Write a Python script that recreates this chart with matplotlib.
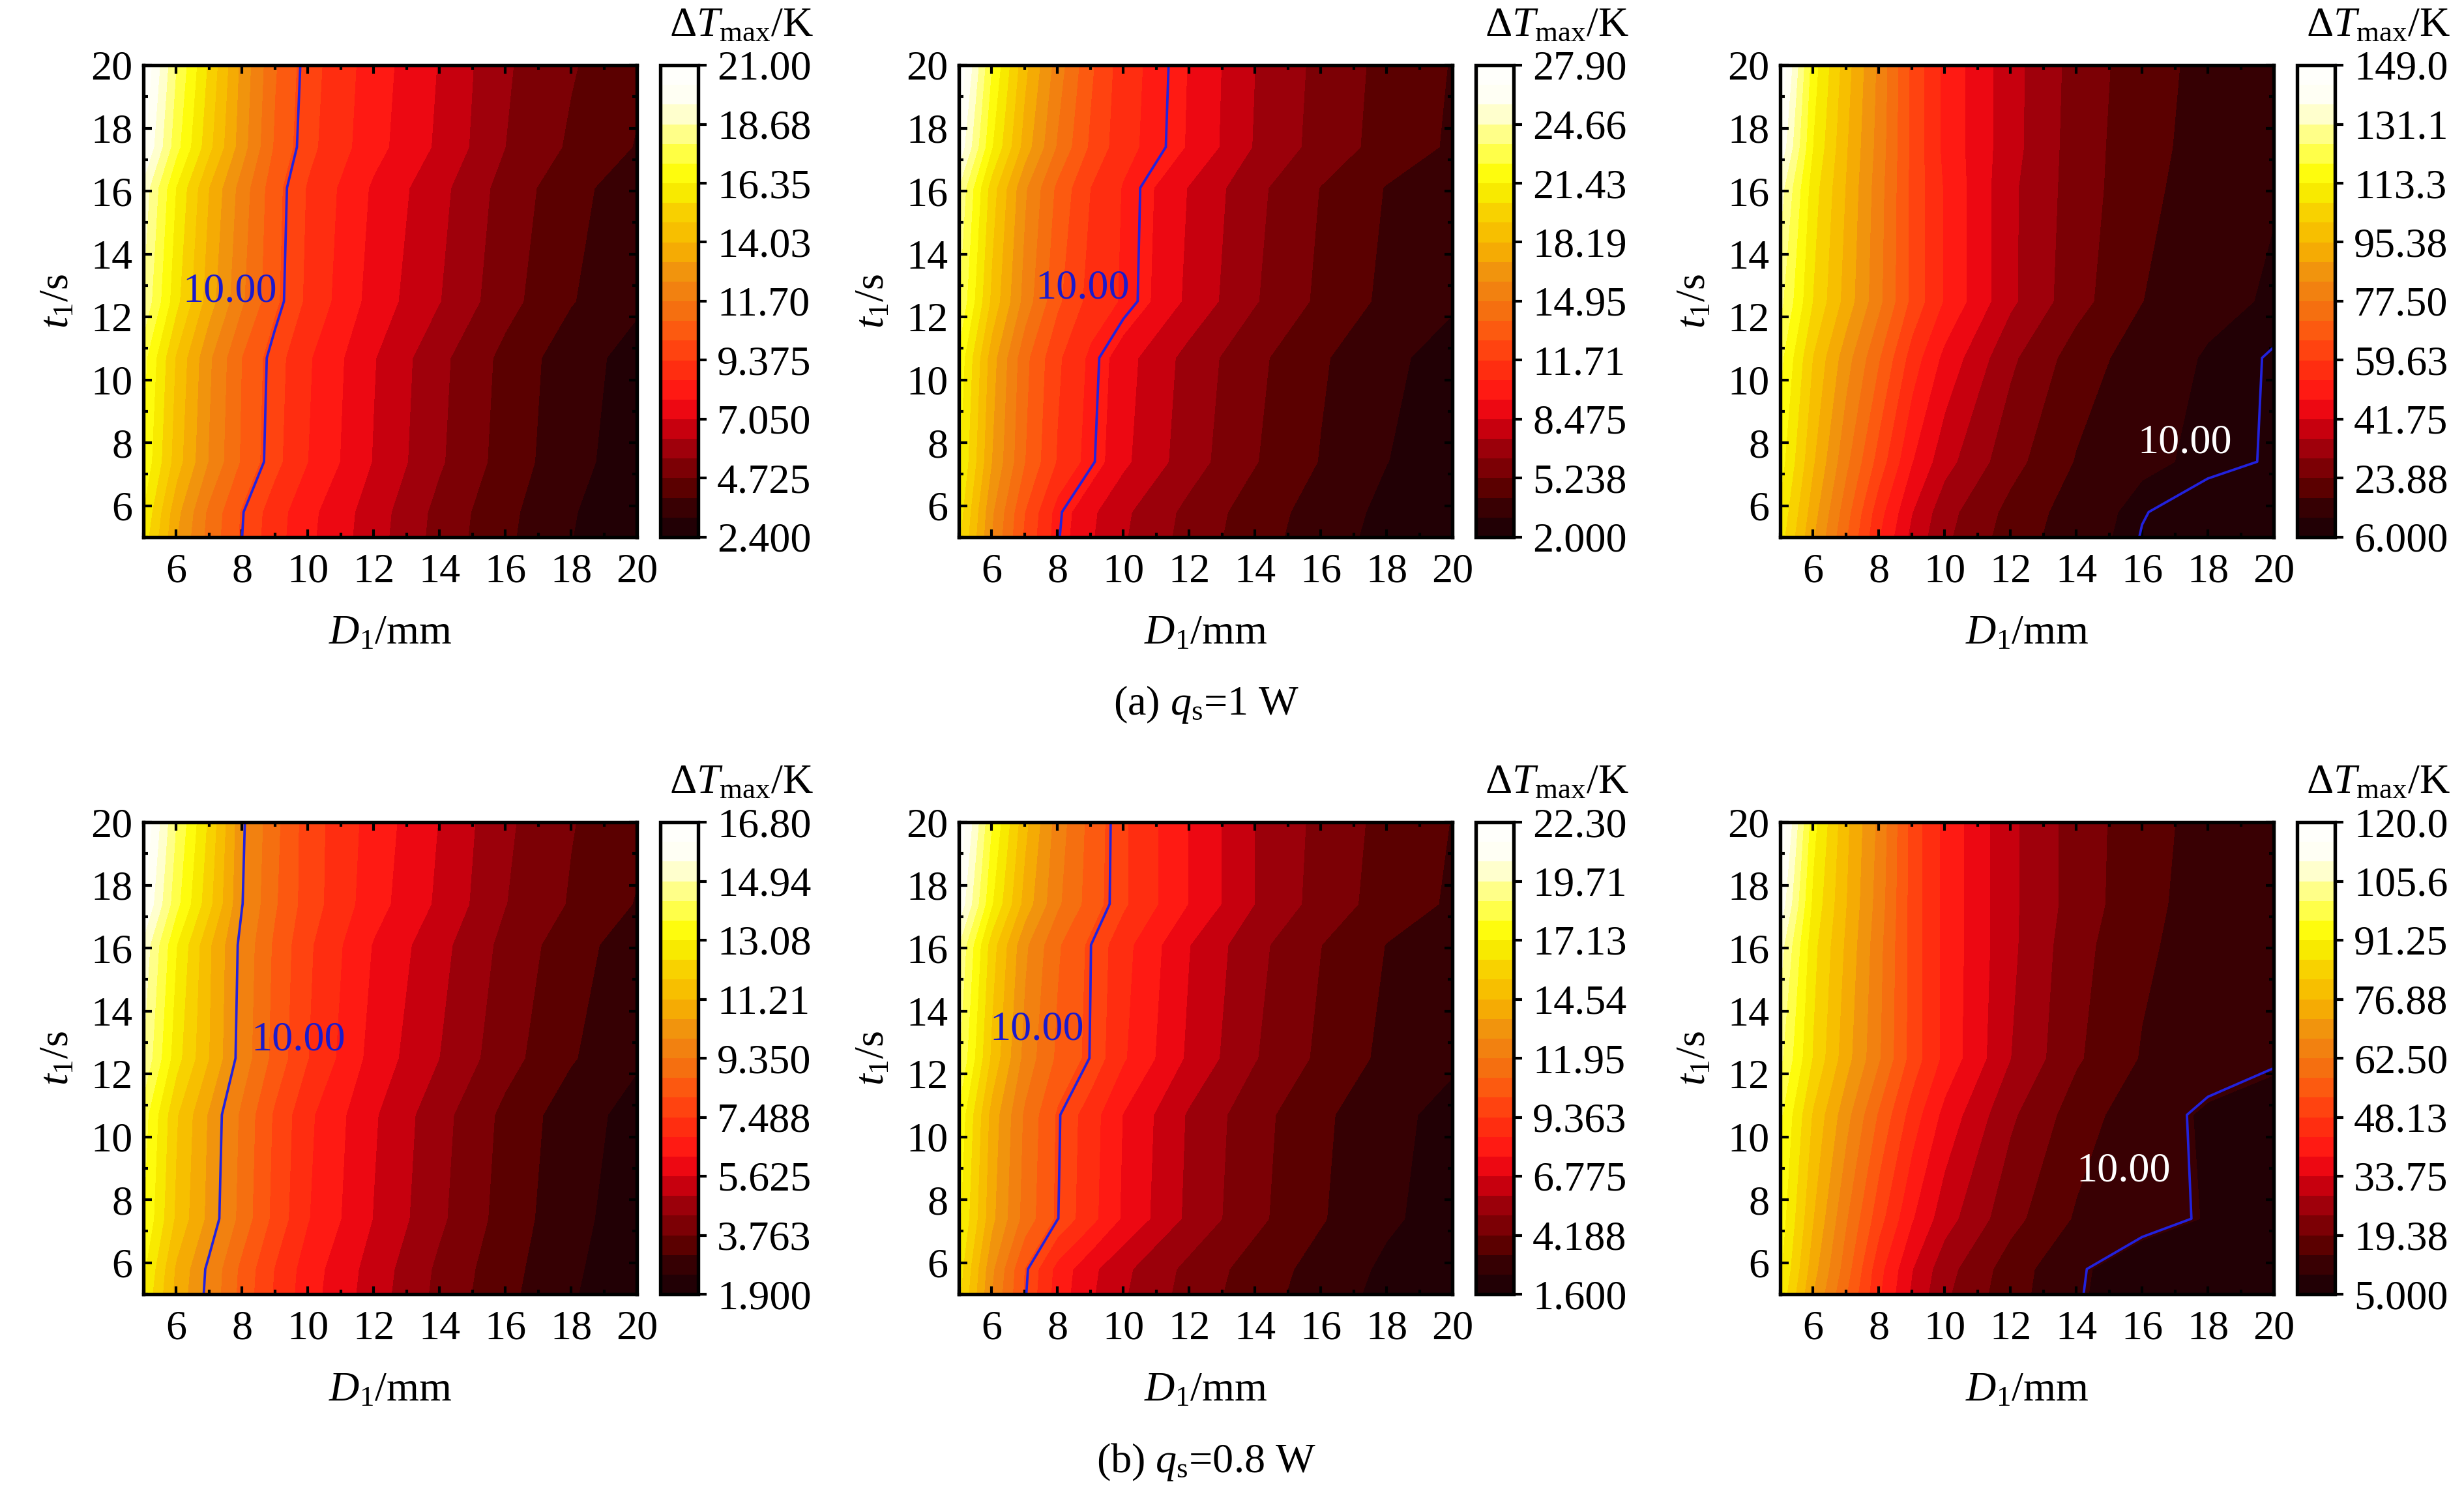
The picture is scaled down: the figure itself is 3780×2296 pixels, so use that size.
import numpy as np
import matplotlib
matplotlib.use('Agg')
import matplotlib.pyplot as plt
from matplotlib.colors import LinearSegmentedColormap
from matplotlib.ticker import MultipleLocator
from decimal import Decimal, ROUND_HALF_UP

plt.rcParams['font.family'] = ['Liberation Serif', 'DejaVu Serif']
plt.rcParams['mathtext.fontset'] = 'custom'
plt.rcParams['mathtext.rm'] = 'Liberation Serif'
plt.rcParams['mathtext.it'] = 'Liberation Serif:italic'
plt.rcParams['mathtext.bf'] = 'Liberation Serif:bold'

# ---------------- data ----------------
D1 = [5, 6, 7, 8, 9, 10, 12, 14, 16, 18, 20]          # D1 / mm
t1 = [5, 5.8, 7.4, 10.7, 12.5, 16.1, 17.4, 20]        # t1 / s

# (a) q_s = 1 W
dT_a1 = [
    [16.0, 13.3, 11.4, 10.0, 8.9, 8.0, 6.6, 5.2, 4.1, 3.2, 2.4],
    [16.3, 13.5, 11.5, 10.05, 8.95, 8.05, 6.65, 5.25, 4.15, 3.25, 2.5],
    [17.0, 14.4, 12.4, 10.8, 9.6, 8.6, 7.0, 5.6, 4.4, 3.4, 2.8],
    [17.4, 14.7, 12.6, 10.9, 9.7, 8.7, 7.1, 5.7, 4.5, 3.5, 2.9],
    [18.6, 15.8, 13.6, 11.8, 10.3, 9.2, 7.5, 6.3, 5.0, 4.0, 3.3],
    [19.2, 16.3, 14.0, 12.1, 10.4, 9.3, 7.7, 6.5, 5.2, 4.2, 3.5],
    [20.4, 17.4, 15.0, 12.8, 10.8, 9.6, 8.1, 6.9, 5.5, 4.6, 3.9],
    [21.0, 17.9, 15.4, 13.0, 11.0, 9.7, 8.2, 7.0, 5.6, 4.8, 4.1],
]
dT_a2 = [
    [20.6, 16.0, 12.6, 10.1, 8.6, 7.5, 5.9, 4.6, 3.6, 2.7, 2.0],
    [20.9, 16.2, 12.8, 10.2, 8.7, 7.6, 6.0, 4.7, 3.7, 2.8, 2.2],
    [21.6, 17.1, 13.9, 11.6, 10.2, 8.7, 6.8, 5.3, 4.1, 3.1, 2.5],
    [22.2, 17.6, 14.2, 11.9, 10.4, 8.9, 7.0, 5.5, 4.3, 3.3, 2.7],
    [23.6, 19.0, 15.6, 13.0, 11.3, 10.5, 8.2, 6.4, 5.0, 3.9, 3.2],
    [24.6, 19.8, 16.2, 13.6, 11.7, 10.55, 8.4, 6.6, 5.2, 4.1, 3.4],
    [26.6, 21.5, 17.7, 14.8, 12.6, 11.0, 9.45, 7.3, 5.9, 4.8, 4.0],
    [27.9, 22.5, 18.5, 15.5, 13.0, 11.1, 9.5, 7.4, 6.0, 4.9, 4.1],
]
dT_a3 = [
    [110, 90, 72, 54, 40, 31, 21, 14.5, 9.8, 7.5, 6.0],
    [112, 92, 74, 56, 42, 32, 22, 15.0, 10.2, 8.2, 7.0],
    [116, 96, 79, 63, 48, 38, 26, 17.5, 13.0, 10.9, 9.7],
    [121, 101, 86, 72, 57, 46, 31, 21.0, 15.0, 11.4, 9.7],
    [127, 107, 93, 79, 64, 53, 37, 26.0, 18.0, 13.5, 11.3],
    [134, 110, 95, 80, 64, 53, 37, 27.0, 19.5, 15.0, 12.3],
    [142, 113, 96, 81, 64, 52, 38, 27.0, 20.0, 15.5, 12.8],
    [149, 116, 98, 82, 64, 52, 38, 27.5, 20.5, 16.0, 13.0],
]
# (b) q_s = 0.8 W
dT_b1 = [
    [13.0, 11.0, 9.8, 8.5, 7.4, 6.5, 5.3, 4.2, 3.3, 2.6, 1.9],
    [13.2, 11.1, 9.85, 8.55, 7.45, 6.55, 5.35, 4.25, 3.35, 2.65, 2.0],
    [13.7, 11.7, 10.4, 9.1, 7.9, 6.9, 5.6, 4.5, 3.5, 2.7, 2.2],
    [14.0, 11.9, 10.5, 9.2, 8.0, 7.0, 5.7, 4.6, 3.6, 2.8, 2.3],
    [14.9, 12.7, 11.2, 9.7, 8.5, 7.5, 6.0, 5.0, 4.0, 3.2, 2.6],
    [15.4, 13.1, 11.3, 9.8, 8.6, 7.6, 6.2, 5.2, 4.2, 3.4, 2.8],
    [16.3, 13.9, 12.0, 10.02, 8.8, 7.8, 6.5, 5.5, 4.4, 3.7, 3.1],
    [16.8, 14.3, 12.3, 10.1, 8.9, 7.8, 6.6, 5.6, 4.5, 3.8, 3.3],
]
dT_b2 = [
    [16.5, 12.8, 10.1, 8.1, 6.9, 6.0, 4.7, 3.7, 2.9, 2.2, 1.6],
    [16.7, 13.0, 10.2, 8.2, 7.0, 6.1, 4.8, 3.8, 3.0, 2.3, 1.8],
    [17.3, 13.9, 11.6, 10.03, 8.8, 7.5, 5.7, 4.4, 3.4, 2.6, 2.1],
    [17.8, 14.2, 11.8, 10.1, 8.9, 7.6, 5.8, 4.5, 3.5, 2.7, 2.2],
    [18.9, 15.2, 12.5, 10.9, 9.97, 8.6, 6.6, 5.1, 4.0, 3.1, 2.6],
    [19.7, 15.8, 13.0, 11.2, 10.02, 8.8, 6.8, 5.3, 4.2, 3.3, 2.7],
    [21.3, 17.2, 14.2, 12.1, 10.7, 9.5, 7.6, 5.9, 4.7, 3.8, 3.2],
    [22.3, 18.0, 14.8, 12.4, 10.8, 9.5, 7.6, 5.9, 4.8, 3.9, 3.3],
]
dT_b3 = [
    [90, 72, 58, 44, 33, 25, 16.5, 10.3, 7.6, 6.0, 5.0],
    [92, 74, 60, 45, 34, 26, 17.0, 10.4, 7.9, 6.4, 5.5],
    [94, 77, 63, 50, 39, 31, 21.0, 14.0, 11.2, 9.6, 8.6],
    [97, 81, 69, 57, 46, 37, 25.0, 17.0, 11.5, 9.3, 8.6],
    [102, 86, 74, 63, 51, 42, 29.0, 20.0, 14.2, 11.5, 10.3],
    [108, 88, 76, 64, 51, 42, 30.0, 21.0, 15.5, 12.1, 10.8],
    [114, 90, 77, 65, 51, 42, 30.0, 22.0, 16.0, 12.4, 11.0],
    [120, 93, 78, 66, 51, 42, 30.0, 22.0, 16.4, 12.8, 11.2],
]

panels = [dT_a1, dT_a2, dT_a3, dT_b1, dT_b2, dT_b3]
cbar_min = [2.4, 2.0, 6.0, 1.9, 1.6, 5.0]
cbar_max = [21.0, 27.9, 149.0, 16.8, 22.3, 120.0]
contour_value = 10.0
label_pos = [(6.2, 12.8), (7.33, 12.9), (15.86, 8.0),
             (8.27, 13.06), (5.93, 13.4), (14.0, 8.9)]
label_colors = ['#1a1acc', '#1a1acc', 'white', '#1a1acc', '#1a1acc', 'white']
captions = [r'(a) $q_{\mathrm{s}}$=1 W', r'(b) $q_{\mathrm{s}}$=0.8 W']

# ---------------- style ----------------
nodes = [
    (0.00, '#1a0006'), (0.05, '#2e0004'), (0.10, '#5a0000'), (0.15, '#800006'),
    (0.20, '#a8000c'), (0.25, '#e00010'), (0.30, '#ff1414'), (0.36, '#ff3010'),
    (0.42, '#ff5010'), (0.48, '#f57010'), (0.55, '#f08c10'), (0.62, '#f6b400'),
    (0.68, '#f8cc00'), (0.74, '#f8f000'), (0.78, '#ffff10'), (0.86, '#ffff90'),
    (0.92, '#fffff0'), (1.00, '#ffffff'),
]
cmap = LinearSegmentedColormap.from_list('fire', nodes)

W, H = 3780, 2296
fig = plt.figure(figsize=(W / 300, H / 300), dpi=300)

col_left = [220, 1471, 2731]
ax_w = 757
cb_off = 793
cb_w = 58
row_top = [100, 1261]
ax_h = 724
FS = 15.4


def fmt4(v):
    d = Decimal(str(round(v, 9)))
    q = Decimal(1).scaleb(d.adjusted() - 3)
    return f"{d.quantize(q, rounding=ROUND_HALF_UP):f}"


def frac_box(x0, y0, w, h):
    return [x0 / W, 1 - (y0 + h) / H, w / W, h / H]


for i, Z in enumerate(panels):
    r, c = divmod(i, 3)
    ax = fig.add_axes(frac_box(col_left[c], row_top[r], ax_w, ax_h))
    cax = fig.add_axes(frac_box(col_left[c] + cb_off, row_top[r], cb_w, ax_h))
    Z = np.array(Z, dtype=float)
    levels = np.linspace(cbar_min[i], cbar_max[i], 25)
    cs = ax.contourf(D1, t1, Z, levels=levels, cmap=cmap)
    ax.contour(D1, t1, Z, levels=[contour_value], colors='#2222dd', linewidths=0.9)
    lx, ly = label_pos[i]
    ax.text(lx, ly, f'{contour_value:.2f}', color=label_colors[i], fontsize=FS,
            ha='left', va='center')
    ax.set_xlim(5, 20)
    ax.set_ylim(5, 20)
    ax.xaxis.set_major_locator(MultipleLocator(2))
    ax.yaxis.set_major_locator(MultipleLocator(2))
    ax.xaxis.set_minor_locator(MultipleLocator(1))
    ax.yaxis.set_minor_locator(MultipleLocator(1))
    ax.tick_params(which='both', direction='in', top=True, right=True,
                   labelsize=FS, width=1.0)
    ax.tick_params(which='major', length=3.0)
    ax.tick_params(which='minor', length=1.6)
    ax.tick_params(axis='x', pad=6)
    ax.tick_params(axis='y', pad=4)
    for sp in ax.spines.values():
        sp.set_linewidth(1.3)
    ax.set_xlabel(r'$D_1$/mm', fontsize=FS)
    ax.set_ylabel(r'$t_1$/s', fontsize=FS)
    ax.xaxis.set_label_coords(0.5, -0.165)
    ax.yaxis.set_label_coords(-0.135, 0.5)

    cb = fig.colorbar(cs, cax=cax)
    ticks = np.linspace(cbar_min[i], cbar_max[i], 9)
    cb.set_ticks(ticks)
    cb.set_ticklabels([fmt4(v) for v in ticks])
    cb.outline.set_linewidth(1.3)
    cax.tick_params(direction='out', length=3.0, width=1.0, labelsize=FS, pad=4)
    cax.minorticks_off()
    fig.text((col_left[c] + cb_off + 14) / W, 1 - (row_top[r] - 45) / H,
             r'$\Delta T_{\mathrm{max}}$/K', fontsize=FS, ha='left', va='baseline')

fig.text(1850 / W, 1 - 1080 / H, captions[0], fontsize=FS, ha='center', va='center')
fig.text(1850 / W, 1 - 2242 / H, captions[1], fontsize=FS, ha='center', va='center')

fig.savefig('out.png', dpi=300, facecolor='white')
